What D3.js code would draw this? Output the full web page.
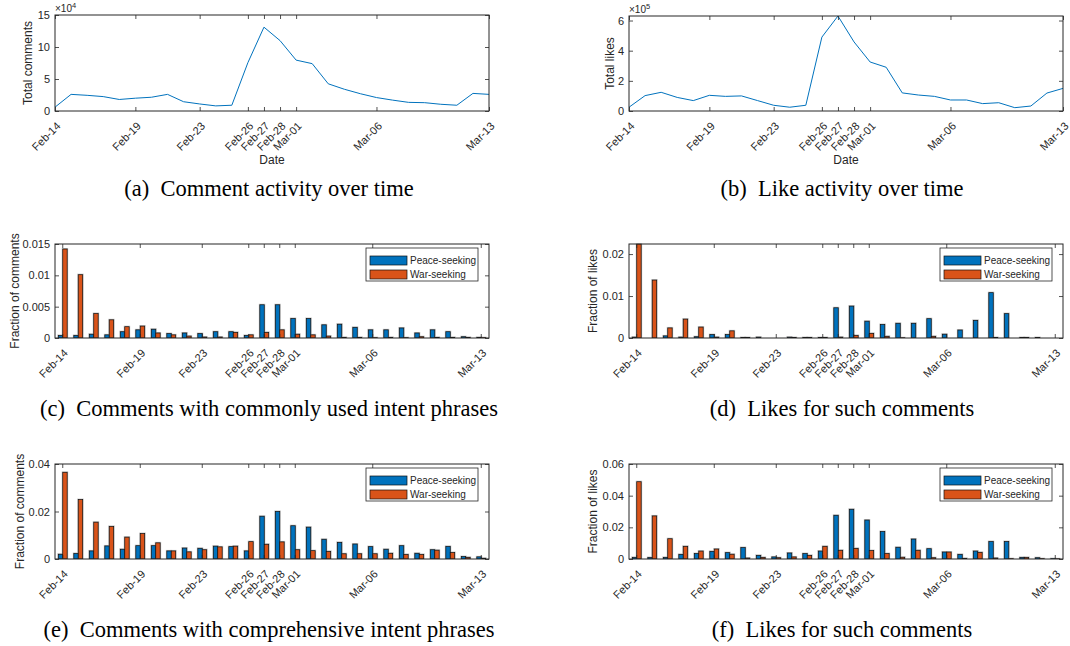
<!DOCTYPE html>
<html><head><meta charset="utf-8">
<script src="https://cdn.jsdelivr.net/npm/d3@7"></script>
<style>body{margin:0;background:#fff}svg{display:block}</style>
</head><body>
<svg id="c" width="1070" height="646"></svg>
<script>
const days = ["Feb-14","Feb-15","Feb-16","Feb-17","Feb-18","Feb-19","Feb-20","Feb-21","Feb-22","Feb-23","Feb-24","Feb-25","Feb-26","Feb-27","Feb-28","Mar-01","Mar-02","Mar-03","Mar-04","Mar-05","Mar-06","Mar-07","Mar-08","Mar-09","Mar-10","Mar-11","Mar-12","Mar-13"];
const tickDays = ["Feb-14","Feb-19","Feb-23","Feb-26","Feb-27","Feb-28","Mar-01","Mar-06","Mar-13"];
const seriesNames = ["Peace-seeking","War-seeking"];

const totalComments = [6000,26000,24500,22500,18000,20000,21500,26000,14500,11000,8000,9000,75500,131000,110000,79500,74000,42500,34000,27000,21000,17000,13500,13000,10500,9000,27500,26000];
const totalLikes = [25000,102000,124000,90000,69000,104000,97000,100000,69000,38000,25000,38000,490000,630000,458000,325000,290000,120000,106000,97000,73000,73000,49000,55000,22000,33000,119000,150000];

const commonPeaceComments = [0.0004,0.0004,0.0006,0.0005,0.0010,0.0013,0.0014,0.0007,0.0008,0.0007,0.0010,0.0010,0.0004,0.0053,0.0053,0.0031,0.0031,0.0021,0.0022,0.0017,0.0013,0.0013,0.0016,0.0008,0.0013,0.0010,0.0002,0.0001];
const commonWarComments = [0.0142,0.0101,0.0039,0.0029,0.0018,0.0019,0.0008,0.0005,0.0003,0.00015,0.00015,0.0009,0.0005,0.0009,0.0013,0.0006,0.0005,0.0003,0.0001,0.0001,0.00005,0.0001,0.00005,0.0002,0.0001,0.0001,0.0001,0.00005];

const commonPeaceLikes = [0.0002,0,0.0005,0.0002,0.0003,0.0008,0.0008,0.0001,0.0002,0,0.0002,0.0001,0.0001,0.0072,0.0076,0.0040,0.0032,0.0035,0.0035,0.0046,0.0009,0.0019,0.0042,0.0108,0.0058,0.0001,0.0001,0];
const commonWarLikes = [0.0224,0.0138,0.0024,0.0045,0.0026,0.0002,0.0017,0.0001,0,0,0.0001,0.0001,0.0001,0.0002,0.0006,0.0011,0.0004,0.00005,0,0.0004,0,0,0,0.0001,0,0.0001,0,0];

const compPeaceComments = [0.0020,0.0023,0.0034,0.0055,0.0041,0.0056,0.0056,0.0034,0.0046,0.0045,0.0054,0.0052,0.0034,0.0180,0.0200,0.0140,0.0134,0.0083,0.0070,0.0063,0.0052,0.0041,0.0056,0.0024,0.0039,0.0053,0.0010,0.0009];
const compWarComments = [0.0365,0.0250,0.0155,0.0137,0.0092,0.0107,0.0068,0.0034,0.0030,0.0039,0.0051,0.0054,0.0073,0.0062,0.0072,0.0039,0.0035,0.0032,0.0022,0.0022,0.0022,0.0024,0.0019,0.0019,0.0037,0.0027,0.0007,0.0003];

const compPeaceLikes = [0.0010,0.0009,0.0010,0.0029,0.0034,0.0048,0.0040,0.0072,0.0023,0.0013,0.0038,0.0034,0.0050,0.0276,0.0314,0.0246,0.0173,0.0074,0.0126,0.0065,0.0044,0.0029,0.0050,0.0110,0.0110,0.0010,0.0008,0.0002];
const compWarLikes = [0.0488,0.0272,0.0128,0.0080,0.0050,0.0063,0.0030,0.0006,0.0010,0.0008,0.0013,0.0023,0.0080,0.0055,0.0067,0.0053,0.0034,0.0011,0.0055,0.0008,0.0044,0.0004,0.0042,0.0006,0.0002,0.0010,0.0002,0.0001];

const captions = ["(a)  Comment activity over time","(b)  Like activity over time","(c)  Comments with commonly used intent phrases","(d)  Likes for such comments","(e)  Comments with comprehensive intent phrases","(f)  Likes for such comments"];

const colors = ["#0072BD","#D95319"];
const FONT = "'Liberation Sans', Arial, Helvetica, sans-serif";
const SERIF = "'Liberation Serif', 'Times New Roman', serif";
const AX = "#262626";
const svg = d3.select("#c");

const L = {x0:55, x1:489}, R = {x0:629, x1:1063};
const panels = [
  {kind:"line", box:{...L, y0:15, y1:111}, values:totalComments, yMax:150000, yTicks:[0,50000,100000,150000], unit:1e4, exp:"4", ylabel:"Total comments", ylx:28, cap:[269,196]},
  {kind:"line", box:{...R, y0:16, y1:111}, values:totalLikes, yMax:630000, yTicks:[0,200000,400000,600000], unit:1e5, exp:"5", ylabel:"Total likes", ylx:610, cap:[842,196]},
  {kind:"bar", box:{...L, y0:244, y1:338}, values:[commonPeaceComments, commonWarComments], yMax:0.015, yTicks:[0,0.005,0.01,0.015], ylabel:"Fraction of comments", ylx:15, cap:[269,416]},
  {kind:"bar", box:{...R, y0:244, y1:338}, values:[commonPeaceLikes, commonWarLikes], yMax:0.0224, yTicks:[0,0.01,0.02], ylabel:"Fraction of likes", ylx:593, cap:[842,416]},
  {kind:"bar", box:{...L, y0:464, y1:559}, values:[compPeaceComments, compWarComments], yMax:0.04, yTicks:[0,0.02,0.04], ylabel:"Fraction of comments", ylx:20, cap:[269,637]},
  {kind:"bar", box:{...R, y0:464, y1:559}, values:[compPeaceLikes, compWarLikes], yMax:0.06, yTicks:[0,0.02,0.04,0.06], ylabel:"Fraction of likes", ylx:593, cap:[842,637]}
];

panels.forEach((p, idx) => {
  const {x0,x1,y0,y1} = p.box;
  const g = svg.append("g");
  const y = d3.scaleLinear().domain([0,p.yMax]).range([y1,y0]);
  let x, xc;
  if (p.kind === "line") { x = d3.scalePoint().domain(days).range([x0,x1]); xc = d => x(d); }
  else { x = d3.scaleBand().domain(days).range([x0,x1]); xc = d => x(d) + x.bandwidth()/2; }

  const cid = "clip" + idx;
  g.append("clipPath").attr("id",cid).append("rect")
    .attr("x",x0).attr("y",y0-0.5).attr("width",x1-x0).attr("height",y1-y0+0.5);
  const plot = g.append("g").attr("clip-path",`url(#${cid})`);

  if (p.kind === "line") {
    plot.append("path").datum(p.values)
      .attr("fill","none").attr("stroke",colors[0]).attr("stroke-width",1)
      .attr("d", d3.line().x((v,i)=>xc(days[i])).y(v=>y(v)));
  } else {
    const bw = x.bandwidth();
    const sub = d3.scaleBand().domain([0,1]).range([-bw*0.285, bw*0.285]);
    p.values.forEach((arr, s) => {
      const data = arr.map((v,i)=>({d:days[i], v}));
      plot.append("g").selectAll("rect").data(data).join("rect")
        .attr("x", d=>xc(d.d)+sub(s)).attr("width", sub.bandwidth())
        .attr("y", d=>y(d.v)).attr("height", d=>Math.max(0,y1-y(d.v)))
        .attr("fill","none").attr("stroke","#bdbdbd").attr("stroke-width",2);
    });
    p.values.forEach((arr, s) => {
      const data = arr.map((v,i)=>({d:days[i], v}));
      plot.append("g").selectAll("rect").data(data).join("rect")
        .attr("x", d=>xc(d.d)+sub(s)).attr("width", sub.bandwidth())
        .attr("y", d=>y(d.v)).attr("height", d=>Math.max(0,y1-y(d.v)))
        .attr("fill",colors[s]).attr("stroke","#111").attr("stroke-width",0.7);
    });
  }

  const styleAxis = sel => {
    sel.select(".domain").remove();
    sel.selectAll(".tick line").attr("stroke",AX).attr("stroke-width",0.8);
    sel.selectAll(".tick text").attr("fill",AX).style("font-family",FONT).style("font-size","11px");
  };
  const gb = g.append("g").attr("transform",`translate(0,${y1})`)
    .call(d3.axisBottom(x).tickValues(tickDays).tickSizeInner(-4).tickSizeOuter(0));
  styleAxis(gb);
  gb.selectAll(".tick text").attr("x",0).attr("y",0).attr("dy","0.35em")
    .attr("text-anchor","end").attr("transform","translate(3,13) rotate(-45)");
  const gt = g.append("g").attr("transform",`translate(0,${y0})`)
    .call(d3.axisTop(x).tickValues(tickDays).tickSizeInner(-4).tickSizeOuter(0).tickFormat(""));
  styleAxis(gt);
  const fmt = p.unit ? (v => String(v/p.unit)) : (v => v===0 ? "0" : String(v));
  const gl = g.append("g").attr("transform",`translate(${x0},0)`)
    .call(d3.axisLeft(y).tickValues(p.yTicks).tickSizeInner(-4).tickSizeOuter(0).tickPadding(5).tickFormat(fmt));
  styleAxis(gl);
  const gr = g.append("g").attr("transform",`translate(${x1},0)`)
    .call(d3.axisRight(y).tickValues(p.yTicks).tickSizeInner(-4).tickSizeOuter(0).tickFormat(""));
  styleAxis(gr);

  g.append("rect").attr("x",x0).attr("y",y0).attr("width",x1-x0).attr("height",y1-y0)
    .attr("fill","none").attr("stroke",AX).attr("stroke-width",1);

  g.append("text").attr("transform",`translate(${p.ylx},${(y0+y1)/2}) rotate(-90)`)
    .attr("text-anchor","middle").attr("dy","0.35em").attr("fill",AX)
    .style("font-family",FONT).style("font-size","12px").text(p.ylabel);

  if (p.kind === "line") {
    g.append("text").attr("x",(x0+x1)/2).attr("y",164).attr("text-anchor","middle").attr("fill",AX)
      .style("font-family",FONT).style("font-size","12px").text("Date");
    const e = g.append("text").attr("x",x0).attr("y",y0-3).attr("fill",AX)
      .style("font-family",FONT).style("font-size","10px");
    e.append("tspan").text("\u00d710");
    e.append("tspan").attr("dy","-4").style("font-size","7.5px").text(p.exp);
  } else {
    const lw = 112, lh = 33, lx = x1 - 11 - lw, ly = y0 + 4;
    const lg = g.append("g").attr("transform",`translate(${lx},${ly})`);
    lg.append("rect").attr("width",lw).attr("height",lh).attr("fill","#fff").attr("stroke",AX).attr("stroke-width",0.8);
    seriesNames.forEach((nm, s) => {
      const cy = s === 0 ? 12.5 : 26.5;
      lg.append("rect").attr("x",4).attr("y",cy-4.5).attr("width",37).attr("height",9)
        .attr("fill",colors[s]).attr("stroke","#111").attr("stroke-width",0.7);
      lg.append("text").attr("x",44).attr("y",cy).attr("dy","0.35em").attr("fill",AX)
        .style("font-family",FONT).style("font-size","10px").text(nm);
    });
  }

  svg.append("text").attr("x",p.cap[0]).attr("y",p.cap[1]).attr("text-anchor","middle")
    .attr("fill","#000").style("font-family",SERIF).style("font-size","22.5px")
    .attr("xml:space","preserve").text(captions[idx]);
});
</script>
</body></html>
